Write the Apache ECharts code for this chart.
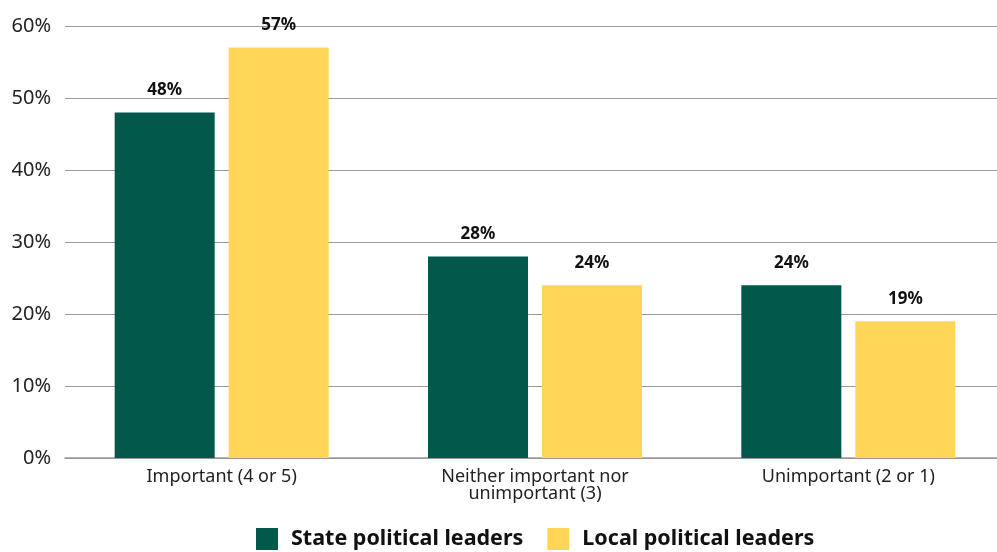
<!DOCTYPE html>
<html><head><meta charset="utf-8">
<script src="https://cdn.jsdelivr.net/npm/echarts@6/dist/echarts.min.js"></script>
<style>html,body{margin:0;padding:0;background:#fff;overflow:hidden}#c{width:1006px;height:552px}</style>
</head><body><div id="c"></div>
<script>
var categories = ["Important (4 or 5)", "Neither important nor\nunimportant (3)", "Unimportant (2 or 1)"];
var stateLeaders = [48, 28, 24];
var localLeaders = [57, 24, 19];
var seriesNames = ["State political leaders", "Local political leaders"];
var yTicks = [0, 10, 20, 30, 40, 50, 60];

var chart = echarts.init(document.getElementById('c'));
var font = '"Noto Sans", "Open Sans", sans-serif';
var labelCfg = {show: true, position: 'top', distance: 14, formatter: '{c}%', fontFamily: font, fontWeight: 'bold', fontSize: 17, color: '#111'};
chart.setOption({
  animation: false,
  textStyle: {fontFamily: font},
  legend: {
    bottom: -3, left: 251, itemWidth: 22, itemHeight: 22, itemGap: 24,
    icon: 'rect',
    textStyle: {fontFamily: font, fontWeight: 'bold', fontSize: 21.5, color: '#111', padding: [0, 0, 0, 8]},
    data: seriesNames
  },
  grid: {left: 65, top: 26, right: 1, bottom: 94, containLabel: false},
  xAxis: {
    type: 'category', data: categories,
    axisLine: {lineStyle: {color: '#999', width: 1.5}},
    axisTick: {show: false},
    axisLabel: {fontFamily: font, fontSize: 18, color: '#222', margin: 10, lineHeight: 17}
  },
  yAxis: {
    type: 'value', min: yTicks[0], max: yTicks[yTicks.length - 1], interval: 10,
    axisLine: {show: false}, axisTick: {show: false},
    axisLabel: {formatter: '{value}%', fontFamily: font, fontSize: 20, color: '#222', margin: 14},
    splitLine: {lineStyle: {color: '#999', width: 1.2}}
  },
  series: [
    {name: seriesNames[0], type: 'bar', data: stateLeaders, barWidth: 100, barGap: '14%',
     itemStyle: {color: '#02594B'}, label: labelCfg},
    {name: seriesNames[1], type: 'bar', data: localLeaders, barWidth: 100,
     itemStyle: {color: '#FFD658'}, label: labelCfg}
  ]
});
</script></body></html>
